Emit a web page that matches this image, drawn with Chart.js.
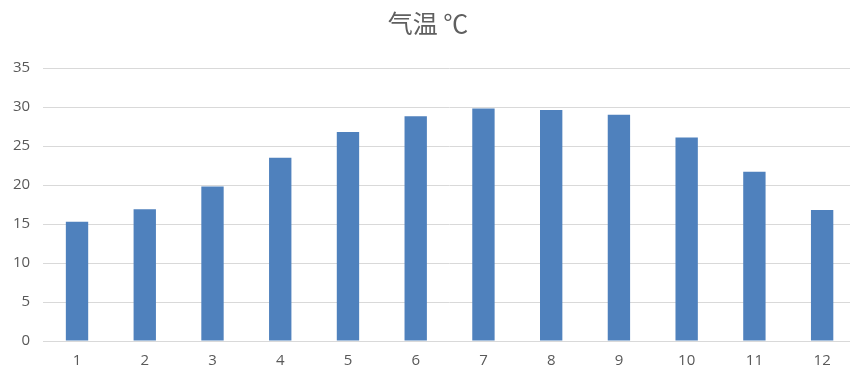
<!DOCTYPE html>
<html>
<head>
<meta charset="utf-8">
<script src="https://cdn.jsdelivr.net/npm/chart.js@4"></script>
<style>
  html, body { margin: 0; padding: 0; background: #fff; overflow: hidden; }
  body { width: 850px; height: 370px; }
  #wrap { width: 856px; height: 381px; }
</style>
</head>
<body>
<div id="wrap"><canvas id="myChart"></canvas></div>
<script>
var months = ['1', '2', '3', '4', '5', '6', '7', '8', '9', '10', '11', '12']
var temps = [15.3, 16.9, 19.8, 23.5, 26.8, 28.8, 29.8, 29.6, 29.0, 26.1, 21.7, 16.8]
var chartTitle = '气温 ℃'

var tickFont = { family: '"Open Sans", "Liberation Sans", sans-serif', size: 15 }

let ctx = document.getElementById('myChart').getContext('2d')
let tempChart = new Chart(ctx, {
    type: 'bar',
    data: {
        labels: months,
        datasets: [{
            label: chartTitle,
            data: temps,
            backgroundColor: '#4F81BD',
            borderWidth: 0,
            barPercentage: 0.33,
            categoryPercentage: 1.0
        }]
    },
    options: {
        responsive: true,
        maintainAspectRatio: false,
        animation: false,
        layout: { padding: { left: 0, right: 0, top: 8, bottom: 0 } },
        plugins: {
            legend: { display: false },
            tooltip: { enabled: false },
            title: {
                display: true,
                text: chartTitle,
                color: '#5f5f5f',
                font: { family: '"Noto Sans CJK SC", "Noto Sans", sans-serif', size: 25, weight: 'normal' },
                padding: { top: 0, bottom: 30 }
            }
        },
        scales: {
            x: {
                grid: { display: false, drawTicks: false },
                border: { display: true, color: '#d9d9d9', width: 1 },
                ticks: { color: '#595959', font: tickFont, padding: 11 }
            },
            y: {
                min: 0,
                max: 35,
                ticks: { stepSize: 5, color: '#595959', font: tickFont, padding: 13 },
                grid: { color: '#d9d9d9', drawTicks: false },
                border: { display: false }
            }
        }
    }
});
</script>
</body>
</html>
